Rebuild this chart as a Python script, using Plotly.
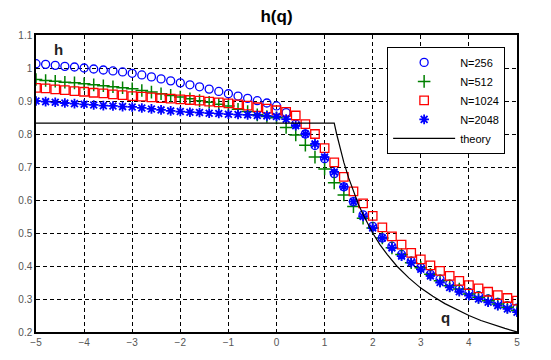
import plotly.graph_objects as go

q = [round(-5 + 0.2 * i, 1) for i in range(51)]

h_256 = [1.013, 1.011, 1.008, 1.005, 1.003, 1.000, 0.997, 0.994, 0.991, 0.988,
         0.984, 0.979, 0.973, 0.967, 0.961, 0.955, 0.949, 0.943, 0.936, 0.929,
         0.922, 0.915, 0.908, 0.901, 0.894, 0.885, 0.865, 0.830, 0.800, 0.765,
         0.725, 0.680, 0.640, 0.595, 0.555, 0.520, 0.485, 0.460, 0.435, 0.415,
         0.395, 0.375, 0.360, 0.345, 0.330, 0.320, 0.310, 0.300, 0.290, 0.280, 0.272]

h_512 = [0.965, 0.962, 0.960, 0.957, 0.955, 0.952, 0.949, 0.946, 0.943, 0.940,
         0.937, 0.932, 0.927, 0.922, 0.917, 0.912, 0.907, 0.901, 0.896, 0.890,
         0.885, 0.875, 0.868, 0.858, 0.853, 0.849, 0.820, 0.797, 0.766, 0.730,
         0.694, 0.652, 0.615, 0.580, 0.545, 0.515, 0.485, 0.455, 0.435, 0.410,
         0.395, 0.375, 0.355, 0.340, 0.330, 0.315, 0.305, 0.295, 0.285, 0.275, 0.265]

h_1024 = [0.940, 0.938, 0.935, 0.933, 0.930, 0.928, 0.925, 0.923, 0.920, 0.918,
          0.915, 0.913, 0.911, 0.909, 0.907, 0.905, 0.903, 0.901, 0.898, 0.896,
          0.893, 0.890, 0.886, 0.881, 0.877, 0.872, 0.867, 0.856, 0.830, 0.800,
          0.757, 0.714, 0.670, 0.626, 0.590, 0.552, 0.517, 0.490, 0.465, 0.440,
          0.420, 0.402, 0.385, 0.370, 0.355, 0.342, 0.332, 0.322, 0.312, 0.303, 0.295]

h_2048 = [0.900, 0.898, 0.896, 0.894, 0.892, 0.890, 0.888, 0.886, 0.885, 0.883,
          0.882, 0.879, 0.876, 0.873, 0.870, 0.868, 0.866, 0.865, 0.863, 0.862,
          0.860, 0.859, 0.858, 0.856, 0.855, 0.853, 0.845, 0.825, 0.800, 0.770,
          0.730, 0.685, 0.640, 0.595, 0.550, 0.515, 0.485, 0.455, 0.430, 0.410,
          0.390, 0.370, 0.350, 0.335, 0.322, 0.310, 0.300, 0.290, 0.280, 0.270, 0.260]

q_theory = [-5, 1.2, 1.25, 1.3, 1.35, 1.4, 1.5, 1.6, 1.7, 1.8, 1.9, 2.0, 2.15, 2.3, 2.5,
            2.75, 3.0, 3.25, 3.5, 3.75, 4.0, 4.25, 4.5, 4.75, 5.0]
h_theory = [0.833, 0.833, 0.800, 0.769, 0.741, 0.714, 0.667, 0.625, 0.588, 0.556, 0.526,
            0.500, 0.465, 0.435, 0.400, 0.364, 0.333, 0.308, 0.286, 0.267, 0.250, 0.235,
            0.222, 0.211, 0.200]

series_names = ["N=256", "N=512", "N=1024", "N=2048"]
x_ticks = [-5, -4, -3, -2, -1, 0, 1, 2, 3, 4, 5]
y_ticks = [0.2, 0.3, 0.4, 0.5, 0.6, 0.7, 0.8, 0.9, 1.0, 1.1]
y_tick_text = ["0.2", "0.3", "0.4", "0.5", "0.6", "0.7", "0.8", "0.9", "1", "1.1"]

fig = go.Figure()
styles = [
    dict(symbol="circle-open", color="#0000ff", size=8, line=dict(width=1.3, color="#0000ff")),
    dict(symbol="cross-thin-open", color="#008000", size=9, line=dict(width=1.5, color="#008000")),
    dict(symbol="square-open", color="#ff0000", size=8.5, line=dict(width=1.3, color="#ff0000")),
    dict(symbol="asterisk-open", color="#0000ff", size=8, line=dict(width=1.8, color="#0000ff")),
]
for name, ys, st in zip(series_names, [h_256, h_512, h_1024, h_2048], styles):
    fig.add_trace(go.Scatter(x=q, y=ys, mode="markers", name=name, marker=st))

fig.add_trace(go.Scatter(x=q_theory, y=h_theory, mode="lines", name="theory",
                         line=dict(color="black", width=1.2)))

fig.update_layout(
    width=551, height=360,
    margin=dict(l=36, r=34, t=35, b=25),
    paper_bgcolor="white", plot_bgcolor="white",
    font=dict(family="Liberation Sans, Arial", size=10, color="#555"),
    title=dict(text="<b>h(q)</b>", x=0.5, xref="paper", y=0.955, yanchor="middle",
               font=dict(size=17, color="black")),
    legend=dict(x=0.73, y=0.96, xanchor="left", yanchor="top",
                bgcolor="white", bordercolor="black", borderwidth=1,
                font=dict(size=11, color="black"), tracegroupgap=0,
                traceorder="normal",
                itemwidth=62, entrywidth=55, entrywidthmode="pixels"),
    showlegend=True,
)
fig.update_xaxes(range=[-5, 5], tickvals=x_ticks, showgrid=True, gridcolor="black",
                 griddash="4px,3px", gridwidth=1, zeroline=False, showline=True,
                 linecolor="black", linewidth=1.5, mirror=True, ticks="", tickfont=dict(size=10))
fig.update_yaxes(range=[0.2, 1.1], tickvals=y_ticks, ticktext=y_tick_text, showgrid=True,
                 gridcolor="black", griddash="4px,3px", gridwidth=1, zeroline=False,
                 showline=True, linecolor="black", linewidth=1.5, mirror=True, ticks="",
                 tickfont=dict(size=10))

fig.add_annotation(x=-4.53, y=1.055, text="<b>h</b>", showarrow=False,
                   font=dict(size=15, color="#222"))
fig.add_annotation(x=3.52, y=0.245, text="<b>q</b>", showarrow=False,
                   font=dict(size=15, color="#222"))

fig.write_html("out.html")
